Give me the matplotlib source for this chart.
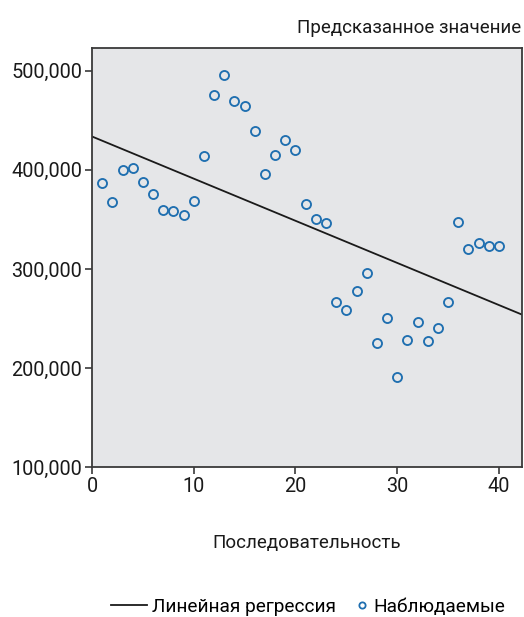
import matplotlib
matplotlib.use("Agg")
import matplotlib.pyplot as plt
from matplotlib.ticker import FuncFormatter
from matplotlib.lines import Line2D
import numpy as np

plt.rcParams['font.family'] = ['Roboto', 'DejaVu Sans']

# observed series
seq = list(range(1, 41))
observed = [386.6, 367.8, 400.3, 402.0, 388.2, 376.1, 360.0, 358.7, 354.4, 368.1,
            413.8, 475.2, 495.4, 469.5, 464.1, 439.3, 396.3, 415.1, 430.2, 420.1,
            365.5, 350.4, 346.6, 266.4, 258.3, 278.2, 296.3, 225.8, 250.9, 190.9,
            228.8, 246.6, 227.1, 240.2, 266.8, 347.6, 320.5, 326.2, 323.5, 323.5]
observed = [v * 1000 for v in observed]

x_ticks = [0, 10, 20, 30, 40]
y_ticks = [100000, 200000, 300000, 400000, 500000]

title_text = 'Предсказанное значение'
x_label = 'Последовательность'
legend_labels = ['Линейная регрессия', 'Наблюдаемые']

edge = '#3a3a3a'
dot_blue = '#1f6fb0'
ink = '#1a1a1a'

fig = plt.figure(figsize=(5.24, 6.17), dpi=100)
ax = fig.add_axes([0.1756, 0.2426, 0.8212, 0.6791])
ax.set_facecolor('#e5e6e8')

x_max = 42.3
slope, intercept = np.polyfit(seq, observed, 1)
xl = np.array([0, x_max])
ax.plot(xl, intercept + slope * xl, color=ink, lw=1.3)
ax.plot(seq, observed, 'o', ms=6.5, mfc='none', mec=dot_blue, mew=1.35)

ax.set_xlim(0, x_max)
ax.set_ylim(100000, 522600)
ax.set_xticks(x_ticks)
ax.set_yticks(y_ticks)
ax.yaxis.set_major_formatter(FuncFormatter(lambda v, p: f'{int(v):,}'))
ax.tick_params(direction='out', length=5, width=1.2, color=edge,
               labelsize=14.3, labelcolor=ink, pad=2)
for s in ax.spines.values():
    s.set_color(edge)
    s.set_linewidth(1.3)

ax.set_xlabel(x_label, fontsize=13.5, color=ink, labelpad=27)
fig.text(0.995, 0.955, title_text, ha='right', va='center', fontsize=13.5, color=ink)

# legend: two parts so the marker sits close to its label
line_h = Line2D([], [], color=ink, lw=1.3)
dot_h = Line2D([], [], ls='none', marker='o', ms=4.5, mfc='none', mec=dot_blue, mew=1.3)
leg1 = fig.legend([line_h], [legend_labels[0]], loc='center left',
                  bbox_to_anchor=(0.211, 0.017), frameon=False, fontsize=13.7,
                  handlelength=1.9, handletextpad=0.3, borderaxespad=0, borderpad=0)
leg2 = fig.legend([dot_h], [legend_labels[1]], loc='center left',
                  bbox_to_anchor=(0.68, 0.017), frameon=False, fontsize=13.7,
                  handlelength=0.6, handletextpad=0.3, borderaxespad=0, borderpad=0)

fig.savefig('out.png', dpi=100)
